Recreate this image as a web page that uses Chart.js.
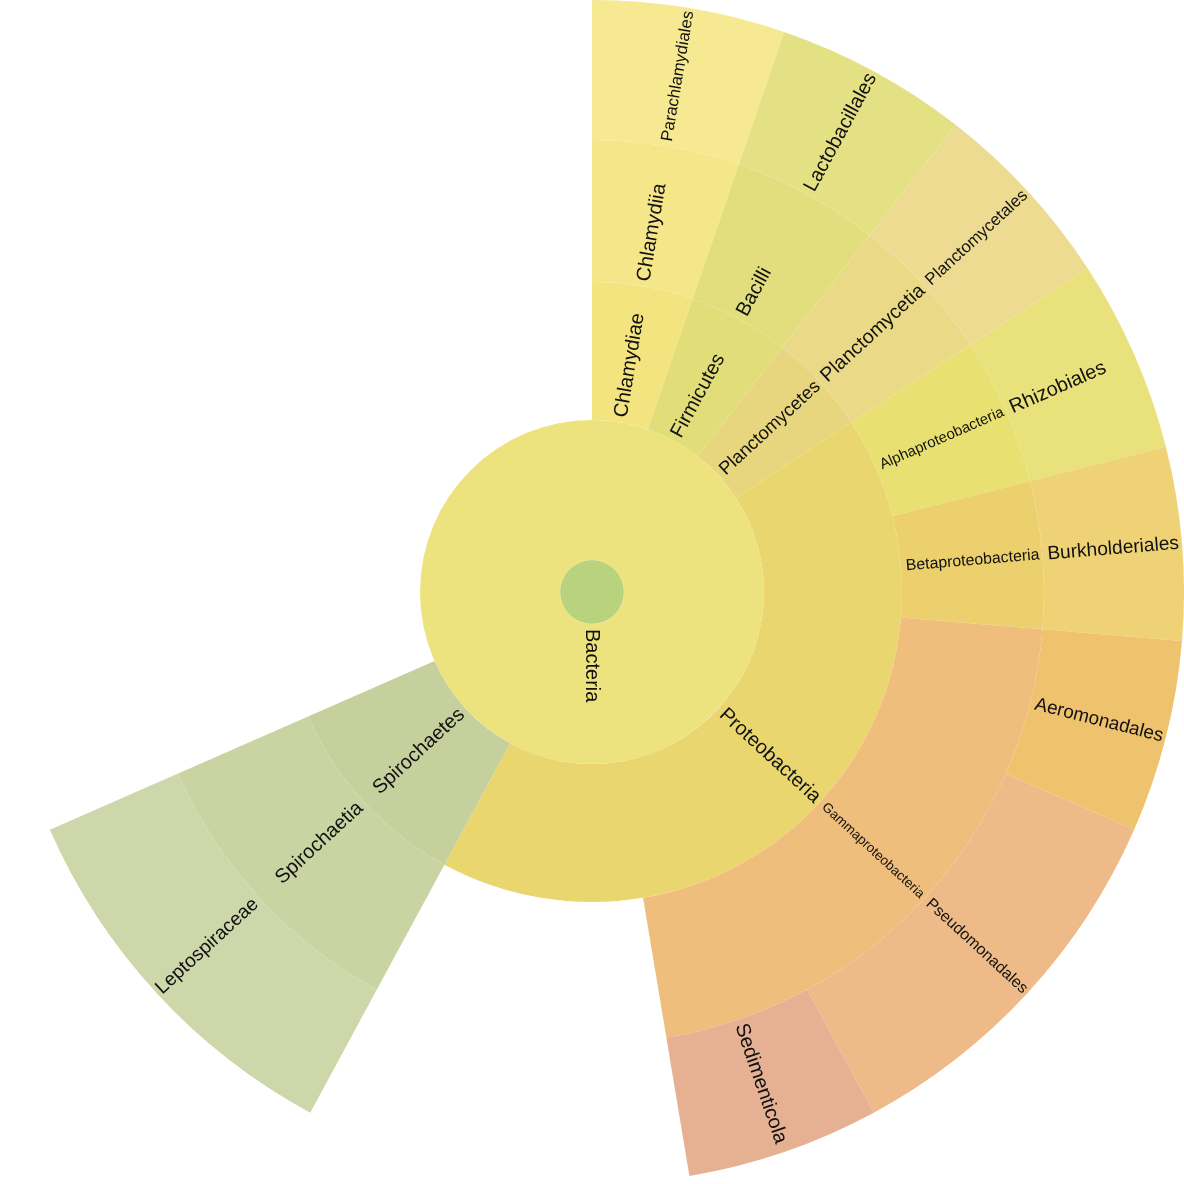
<!DOCTYPE html>
<html>
<head>
<meta charset="utf-8">
<script src="https://cdn.jsdelivr.net/npm/chart.js@4.4.1/dist/chart.umd.min.js"></script>
<style>
    html, body { margin: 0; padding: 0; background: #fff; }
    #wrap { width: 1184px; height: 1184px; }
</style>
</head>
<body>
<div id="wrap"><canvas id="sunburst"></canvas></div>
<script>
// Sunburst of taxa. Values are counts; null label = gap with nothing assigned.
const rootValues = [19];

const domainLabels = ['Bacteria'];
const domainValues = [19];

const phylumLabels = ['Chlamydiae', 'Firmicutes', 'Planctomycetes', 'Proteobacteria', 'Spirochaetes', null];
const phylumValues = [1, 1, 1, 8, 2, 6];

const classLabels = ['Chlamydiia', 'Bacilli', 'Planctomycetia', 'Alphaproteobacteria', 'Betaproteobacteria',
    'Gammaproteobacteria', null, 'Spirochaetia', null];
const classValues = [1, 1, 1, 1, 1, 4, 2, 2, 6];

const orderLabels = ['Parachlamydiales', 'Lactobacillales', 'Planctomycetales', 'Rhizobiales', 'Burkholderiales',
    'Aeromonadales', 'Pseudomonadales', 'Sedimenticola', null, 'Leptospiraceae', null];
const orderValues = [1, 1, 1, 1, 1, 1, 2, 1, 2, 2, 6];

// Colours per ring, same order as the labels above.
const rootColors = ['#b9d27d'];
const domainColors = ['#ede37e'];
const phylumColors = ['#f4e47f', '#e1dd78', '#e8d67f', '#ead66e', '#c6d09c', 'transparent'];
const classColors = ['#f5e789', '#e2de7d', '#eada88', '#e8e070', '#ecd06d', '#efbd7c', 'transparent', '#c9d4a2', 'transparent'];
const orderColors = ['#f6e992', '#e4e184', '#ecdb91', '#e9e17b', '#eed275', '#efc26e', '#eeba88', '#e6b093',
    'transparent', '#cdd7a9', 'transparent'];

const FONT = '"Liberation Sans", Arial, Helvetica, sans-serif';
const MAX_FONT = 20;
const PAD = 5;

function ring(values, names, colors, weight) {
    return {
        data: values,
        names: names,
        backgroundColor: colors,
        borderWidth: 0,
        hoverBorderWidth: 0,
        weight: weight,
    };
}

/** Radial labels: read outward on the right half, flipped on the left. */
const radialLabels = {
    id: 'radialLabels',
    afterDatasetsDraw(chart) {
        const c = chart.ctx;
        chart.data.datasets.forEach((ds, i) => {
            chart.getDatasetMeta(i).data.forEach((arc, j) => {
                const text = ds.names ? ds.names[j] : null;
                if (!text) return;
                const { x, y, startAngle, endAngle, innerRadius, outerRadius } = arc.getProps(
                    ['x', 'y', 'startAngle', 'endAngle', 'innerRadius', 'outerRadius'], true);
                const mid = (startAngle + endAngle) / 2;
                const room = outerRadius - innerRadius - 8;
                c.save();
                c.font = `10px ${FONT}`;
                const size = Math.min(MAX_FONT, room / c.measureText(text).width * 10);
                c.font = `${size}px ${FONT}`;
                c.fillStyle = '#111';
                c.textBaseline = 'middle';
                const r0 = innerRadius + PAD;
                c.translate(x + Math.cos(mid) * r0, y + Math.sin(mid) * r0);
                if (mid <= Math.PI / 2 + 1e-6) {
                    c.rotate(mid);
                    c.textAlign = 'left';
                } else {
                    c.rotate(mid + Math.PI);
                    c.textAlign = 'right';
                }
                c.fillText(text, 0, 0);
                c.restore();
            });
        });
    },
};

new Chart(document.getElementById('sunburst'), {
    type: 'doughnut',
    data: {
        datasets: [
            ring(orderValues, orderLabels, orderColors, 140),
            ring(classValues, classLabels, classColors, 142),
            ring(phylumValues, phylumLabels, phylumColors, 138),
            ring(domainValues, domainLabels, domainColors, 140),
            ring(rootValues, [null], rootColors, 32),
        ],
    },
    options: {
        responsive: true,
        maintainAspectRatio: false,
        animation: false,
        cutout: 0,
        layout: { padding: 0 },
        plugins: { legend: { display: false }, tooltip: { enabled: false } },
        events: [],
    },
    plugins: [radialLabels],
});
</script>
</body>
</html>
